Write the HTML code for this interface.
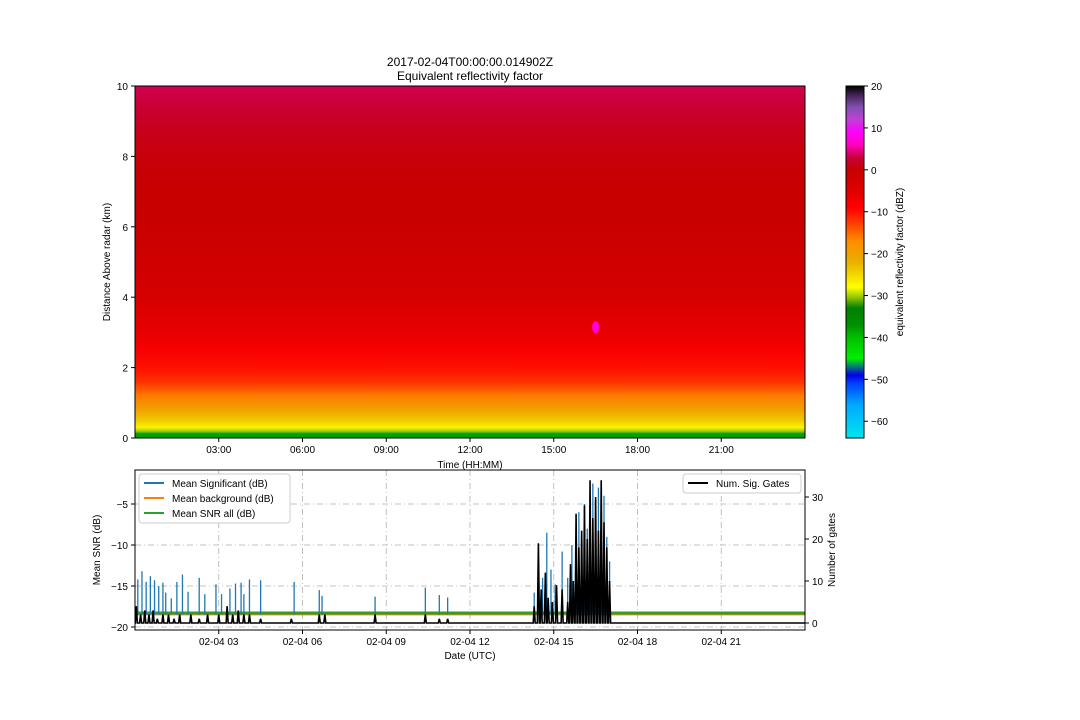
<!DOCTYPE html>
<html><head><meta charset="utf-8"><style>
body{margin:0;background:#fff}
svg{display:block;font-family:"Liberation Sans",sans-serif}
</style></head><body>
<svg id="fig" width="1080" height="720" viewBox="0 0 1080 720">
<defs><linearGradient id="prof" x1="0" y1="1" x2="0" y2="0"></linearGradient>
<linearGradient id="cbg" x1="0" y1="1" x2="0" y2="0"></linearGradient></defs>
<g id="topPanel"></g>
<g id="cbarPanel"></g>
<g id="botPanel"></g>
</svg>
<script>
// ---- data ----
const cmapVals=[-64,-56,-51,-49,-47,-45,-40,-37,-33,-30,-28,-22,-17,-12,-9,-5,0,3,6,9,12,15,18,20];
const cmapCols=["#00e5ee","#00a8ff","#0040ff","#0000e8","#007878","#00f000","#00c000","#009000","#008000","#a8d000","#ffff00","#e8b000","#ff8c00","#ff3000","#ff0000","#e00000","#c80000","#c8003c","#ff00c0","#ff00ff","#c040d8","#8050b0","#402050","#000000"];
const profHeights=[0,0.12,0.2,0.3,0.5,0.8,1.2,1.6,2.0,2.5,3.0,4.0,5.0,6.0,7.0,8.0,8.8,9.4,10];
const profDbz=[-38,-38,-30,-27,-24,-20,-16,-12,-10,-8,-6,-3,-1.5,-0.5,0,0.5,1.5,2.5,3.5];
const cbTicks=[20,10,0,-10,-20,-30,-40,-50,-60];
const topXTicks=["03:00","06:00","09:00","12:00","15:00","18:00","21:00"];
const topYTicks=[0,2,4,6,8,10];
const sigHours=[0.1,0.25,0.4,0.55,0.7,0.85,1.0,1.1,1.3,1.5,1.7,1.9,2.3,2.5,2.9,3.1,3.4,3.6,3.8,3.9,4.1,4.5,5.7,6.6,6.7,8.6,10.4,10.9,11.2,14.3,14.45,14.6,14.75,14.9,15.05,15.3,15.5,15.65,15.8,15.9,16.0,16.1,16.2,16.3,16.4,16.5,16.6,16.7,16.8,16.9,17.0];
const sigDb=[-14.2,-13.2,-14.5,-13.8,-14.3,-15,-14.6,-15.8,-16.5,-14.5,-13.6,-15.7,-14,-16,-14.8,-16,-15.3,-14.7,-14.6,-16,-14.2,-14.3,-14.5,-15.5,-16.2,-16.3,-15.2,-16.1,-16.4,-15.8,-10.5,-14,-8.5,-13,-14.8,-10.8,-14,-10,-9,-6,-11,-5,-8,-4,-2.5,-6,-3,-7,-4,-9,-12];
const gateHours=[0.05,0.2,0.35,0.5,0.65,0.8,1.0,1.2,1.4,1.6,2.0,2.3,2.6,3.0,3.3,3.5,3.7,3.9,4.1,4.5,5.6,6.6,6.8,8.6,10.4,10.9,11.2,14.3,14.45,14.55,14.7,14.8,14.95,15.1,15.3,15.5,15.6,15.7,15.8,15.9,16.0,16.1,16.2,16.3,16.4,16.5,16.6,16.7,16.8,16.9,17.0];
const gateCounts=[4,2,3,2,3,1,2,2,1,2,2,1,2,2,4,2,3,2,2,1,1,2,2,2,2,1,1,4,19,8,12,6,5,9,8,5,14,10,26,18,22,28,20,34,25,30,22,34,24,18,10];
const bgDb=-18.4, snrDb=-18.3;
const botXTicks=["02-04 03","02-04 06","02-04 09","02-04 12","02-04 15","02-04 18","02-04 21"];
const leftTicks=[-20,-15,-10,-5];
const rightTicks=[0,10,20,30];

const NS="http://www.w3.org/2000/svg";
function mk(parent,tag,attrs,text){const el=document.createElementNS(NS,tag);for(const k in attrs)el.setAttribute(k,attrs[k]);if(text!==undefined)el.textContent=text;parent.appendChild(el);return el;}
function hex(c){return [1,3,5].map(i=>parseInt(c.substr(i,2),16));}
function cmap(v){v=Math.max(-64,Math.min(20,v));for(let i=0;i<cmapVals.length-1;i++){if(v<=cmapVals[i+1]){const t=(v-cmapVals[i])/(cmapVals[i+1]-cmapVals[i]);const a=hex(cmapCols[i]),b=hex(cmapCols[i+1]);return "rgb("+a.map((x,j)=>Math.round(x+(b[j]-x)*t)).join(",")+")";}}return cmapCols[cmapCols.length-1];}

// ---- top panel ----
const topG=document.getElementById('topPanel');
const TX0=135,TX1=805,TY0=86,TY1=438;
const tx=h=>TX0+(TX1-TX0)*h/24, ty=k=>TY1-(TY1-TY0)*k/10;
const pg=document.getElementById('prof');
profHeights.forEach((h,i)=>{mk(pg,'stop',{offset:h/10,'stop-color':cmap(profDbz[i])});});
const hm=mk(topG,'rect',{x:TX0,y:TY0,width:TX1-TX0,height:TY1-TY0,fill:'url(#prof)'});

const blob=mk(topG,'ellipse',{cx:tx(16.5),cy:ty(3.15),rx:3.5,ry:6,fill:'#ff00e0'});

mk(topG,'rect',{x:TX0,y:TY0,width:TX1-TX0,height:TY1-TY0,fill:'none',stroke:'#000','stroke-width':1});
topXTicks.forEach((l,i)=>{const x=tx(3*(i+1));mk(topG,'line',{x1:x,x2:x,y1:TY1,y2:TY1+4,stroke:'#000'});const t=mk(topG,'text',{x:x,y:TY1+15,'font-size':10,'text-anchor':'middle'},l);});
topYTicks.forEach(v=>{const y=ty(v);mk(topG,'line',{x1:TX0-4,x2:TX0,y1:y,y2:y,stroke:'#000'});const t=mk(topG,'text',{x:TX0-7,y:y+4,'font-size':10,'text-anchor':'end'},v);});
let el1=mk(topG,'text',{x:470,y:66,'font-size':12,'text-anchor':'middle'},'2017-02-04T00:00:00.014902Z');
el1=mk(topG,'text',{x:470,y:80,'font-size':12,'text-anchor':'middle'},'Equivalent reflectivity factor');
el1=mk(topG,'text',{x:470,y:468,'font-size':10,'text-anchor':'middle'},'Time (HH:MM)');
el1=mk(topG,'text',{x:110,y:262,'font-size':10,'text-anchor':'middle',transform:'rotate(-90 110 262)'},'Distance Above radar  (km)');

// ---- colorbar ----
const cbG=document.getElementById('cbarPanel');
const CX=846,CW=18;
const cy=v=>TY1-(TY1-TY0)*(v+64)/84;
const cg=document.getElementById('cbg');
cmapVals.forEach((v,i)=>{mk(cg,'stop',{offset:(v+64)/84,'stop-color':cmapCols[i]});});
mk(cbG,'rect',{x:CX,y:TY0,width:CW,height:TY1-TY0,fill:'url(#cbg)',stroke:'#000','stroke-width':1});
cbTicks.forEach(v=>{const y=cy(v);mk(cbG,'line',{x1:CX+CW,x2:CX+CW+4,y1:y,y2:y,stroke:'#000'});const t=mk(cbG,'text',{x:CX+CW+7,y:y+4,'font-size':10},v<0?'\u2212'+(-v):v);});
el1=mk(cbG,'text',{x:903,y:262,'font-size':10,'text-anchor':'middle',transform:'rotate(-90 903 262)'},'equivalent reflectivity factor (dBZ)');

// ---- bottom panel ----
const botG=document.getElementById('botPanel');
const BX0=135,BX1=805,BY0=470,BY1=630;
const bx=h=>BX0+(BX1-BX0)*h/24;
const ly=v=>627-(v+20)*8.2;
const ry=n=>623-n*4.2;
mk(botG,'rect',{x:BX0,y:BY0,width:BX1-BX0,height:BY1-BY0,fill:'#fff'});
const grid=mk(botG,'g',{stroke:'#b0b0b0','stroke-dasharray':'6,3,1,3','stroke-width':0.8});

botXTicks.forEach((l,i)=>{const x=bx(3*(i+1));mk(grid,'line',{x1:x,x2:x,y1:BY0,y2:BY1});});
leftTicks.forEach(v=>mk(grid,'line',{x1:BX0,x2:BX1,y1:ly(v),y2:ly(v)}));
el1=mk(botG,'line',{x1:BX0,x2:BX1,y1:ly(bgDb),y2:ly(bgDb),stroke:'#ff7f0e','stroke-width':3});
el1=mk(botG,'line',{x1:BX0,x2:BX1,y1:ly(snrDb),y2:ly(snrDb),stroke:'#2ca02c','stroke-width':3});
el1=mk(botG,'rect',{x:bx(16.2),y:ly(-17.7),width:bx(17)-bx(16.2),height:ly(snrDb)-ly(-17.7),fill:'#2ca02c'});
const sg=mk(botG,'g',{stroke:'#1f77b4','stroke-width':1.3});

sigHours.forEach((h,i)=>{const l=mk(sg,'line',{x1:bx(h),x2:bx(h),y1:ly(-18.5),y2:ly(sigDb[i])});});
let d='M'+BX0+','+ry(0);
gateHours.forEach((h,i)=>{const x=bx(h);d+=' L'+(x-1)+','+ry(0)+' L'+x+','+ry(gateCounts[i])+' L'+(x+1)+','+ry(0);});
d+=' L'+BX1+','+ry(0);
el1=mk(botG,'path',{d:d,fill:'none',stroke:'#000','stroke-width':1.6});
mk(botG,'rect',{x:BX0,y:BY0,width:BX1-BX0,height:BY1-BY0,fill:'none',stroke:'#000'});
botXTicks.forEach((l,i)=>{const x=bx(3*(i+1));mk(botG,'line',{x1:x,x2:x,y1:BY1,y2:BY1+4,stroke:'#000'});const t=mk(botG,'text',{x:x,y:BY1+15,'font-size':10,'text-anchor':'middle'},l);});
leftTicks.forEach(v=>{const y=ly(v);mk(botG,'line',{x1:BX0-4,x2:BX0,y1:y,y2:y,stroke:'#000'});const t=mk(botG,'text',{x:BX0-7,y:y+4,'font-size':10,'text-anchor':'end'},'\u2212'+(-v));});
rightTicks.forEach(v=>{const y=ry(v);mk(botG,'line',{x1:BX1,x2:BX1+4,y1:y,y2:y,stroke:'#000'});const t=mk(botG,'text',{x:BX1+7,y:y+4,'font-size':10},v);});
el1=mk(botG,'text',{x:470,y:659,'font-size':10,'text-anchor':'middle'},'Date (UTC)');
el1=mk(botG,'text',{x:100,y:550,'font-size':10,'text-anchor':'middle',transform:'rotate(-90 100 550)'},'Mean SNR (dB)');
el1=mk(botG,'text',{x:835,y:550,'font-size':10,'text-anchor':'middle',transform:'rotate(-90 835 550)'},'Number of gates');
const lg=mk(botG,'g',{});
mk(lg,'rect',{x:139,y:474,width:151,height:49,fill:'#fff',stroke:'#ccc',rx:3});
[['Mean Significant (dB)','#1f77b4'],['Mean background (dB)','#ff7f0e'],['Mean SNR all (dB)','#2ca02c']].forEach((it,i)=>{const y=483+i*15;mk(lg,'line',{x1:144,x2:164,y1:y,y2:y,stroke:it[1],'stroke-width':2});const t=mk(lg,'text',{x:172,y:y+4,'font-size':10},it[0]);});
const lg2=mk(botG,'g',{});
mk(lg2,'rect',{x:683,y:474,width:118,height:19,fill:'#fff',stroke:'#ccc',rx:3});
mk(lg2,'line',{x1:688,x2:708,y1:483,y2:483,stroke:'#000','stroke-width':2});
el1=mk(lg2,'text',{x:716,y:487,'font-size':10},'Num. Sig. Gates');
</script>
</body></html>
